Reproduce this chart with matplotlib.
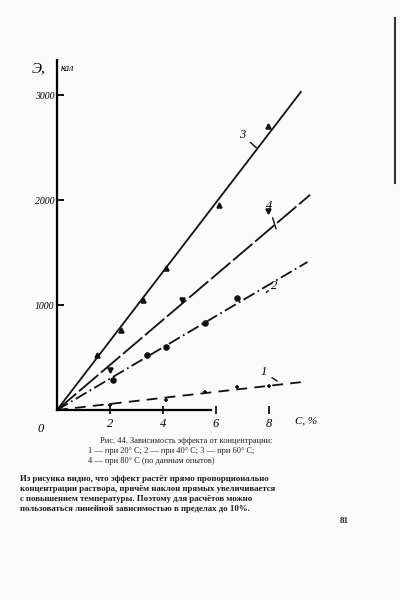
import matplotlib.pyplot as plt
import numpy as np

# (x: concentration, y: effect)
x_ticks = [2, 4, 6, 8]
x_ticklabels = ['2', '4', '6', '8']
y_ticks = [1000, 2000, 3000]
y_ticklabels = ['1000', '2000', '3000']

curve_names = ['3', '4', '2', '1']
line_x = [[0, 9.2], [0, 9.55], [0, 9.45], [0, 9.2]]
line_y = [[0, 3030], [0, 2050], [0, 1410], [0, 265]]

pts_x = [[1.5, 2.4, 3.25, 4.1, 6.1, 7.95],
         [2.0, 4.7, 7.95],
         [2.1, 3.4, 4.1, 5.6, 6.8],
         [2.0, 4.1, 5.6, 6.8, 8.0]]
pts_y = [[520, 760, 1050, 1350, 1950, 2710],
         [380, 1050, 1900],
         [290, 520, 600, 830, 1070],
         [50, 95, 170, 220, 230]]

styles = ['-', (0, (14, 2)), (0, (7, 2, 1, 2)), (0, (6, 4))]
markers = ['^', 'v', 'o', '+']

plt.rcParams['font.family'] = ['Liberation Serif', 'DejaVu Serif']

fig = plt.figure(figsize=(4, 6), dpi=100)
fig.patch.set_facecolor('#fbfbfb')
ax = fig.add_axes([0.1425, 0.3167, 0.6625, 0.583])
ax.set_facecolor('#fbfbfb')

for i in range(len(curve_names)):
    ax.plot(line_x[i], line_y[i], color='#111111', lw=1.3, linestyle=styles[i])
    ax.plot(pts_x[i], pts_y[i], linestyle='none', marker=markers[i],
            ms=3.5, color='#111111', mew=1.2)

ax.set_xlim(0, 10)
ax.set_ylim(0, 3333)
ax.spines['top'].set_visible(False)
ax.spines['right'].set_visible(False)
ax.spines['left'].set_linewidth(1.6)
ax.spines['bottom'].set_linewidth(1.6)
ax.spines['bottom'].set_bounds(0, 5.8)

ax.set_xticks(x_ticks)
ax.set_xticklabels(x_ticklabels, fontsize=9, style='italic')
ax.set_yticks(y_ticks)
ax.set_yticklabels(y_ticklabels, fontsize=7, style='italic')
ax.tick_params(axis='y', direction='in', length=5, width=1.3, pad=2)
ax.tick_params(axis='x', direction='inout', length=6, width=1.2, pad=3)

ax.text(-0.6, -120, '0', fontsize=9, style='italic', ha='center', va='top')
ax.text(9.4, -60, 'C, %', fontsize=8, style='italic', ha='center', va='top')
ax.text(-0.7, 3250, 'Э,', fontsize=11, style='italic', ha='center', va='center')
ax.text(0.15, 3250, 'кал', fontsize=7, style='italic', ha='left', va='center')

# curve numbers with short leader lines
lab_xy = [(7.0, 2620), (8.0, 1940), (8.2, 1180), (7.8, 360)]
tip_xy = [(7.6, 2480), (8.3, 1700), (7.9, 1120), (8.4, 260)]
for i in range(len(curve_names)):
    ax.annotate(curve_names[i], xy=tip_xy[i], xytext=lab_xy[i], fontsize=9,
                style='italic', ha='center', va='center',
                arrowprops=dict(arrowstyle='-', lw=1.0, color='#111111'))

# caption block from the book page
fig.text(0.25, 0.262, 'Рис. 44. Зависимость эффекта от концентрации:',
         fontsize=6, ha='left', color='#222222')
fig.text(0.22, 0.245, '1 — при 20° С; 2 — при 40° С; 3 — при 60° С;',
         fontsize=6, ha='left', color='#222222')
fig.text(0.22, 0.228, '4 — при 80° С (по данным опытов)', fontsize=6,
         ha='left', color='#222222')
cap = ('Из рисунка видно, что эффект растёт прямо пропорционально\n'
       'концентрации раствора, причём наклон прямых увеличивается\n'
       'с повышением температуры. Поэтому для расчётов можно\n'
       'пользоваться линейной зависимостью в пределах до 10%.')
fig.text(0.05, 0.148, cap, fontsize=6.3, ha='left', color='#1a1a1a',
         linespacing=1.35, fontweight='bold')
fig.text(0.86, 0.128, '81', fontsize=6.5, ha='center', color='#222222',
         fontweight='bold')

# edge of the facing page
fig.add_artist(plt.Line2D([0.988, 0.988], [0.695, 0.97], color='#333333', lw=1.5))

fig.savefig('out.png', dpi=100, facecolor=fig.get_facecolor())
